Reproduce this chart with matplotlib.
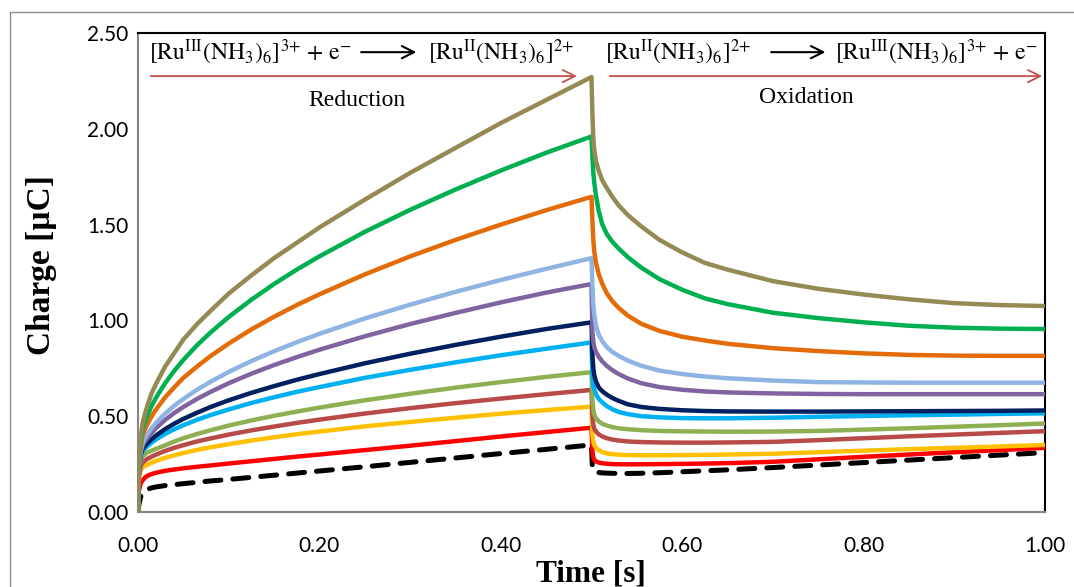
import matplotlib
matplotlib.use("Agg")
import matplotlib.pyplot as plt
from matplotlib.patches import Rectangle
from matplotlib.ticker import FormatStrFormatter

plt.rcParams["mathtext.fontset"] = "stix"

# time axis [s]: reduction step (0 - 0.5 s) then oxidation step (0.5 - 1 s)
T_RED = [0, 0.001, 0.003, 0.005, 0.0075, 0.01, 0.015, 0.02, 0.03, 0.04, 0.05, 0.065,
         0.08, 0.1, 0.125, 0.15, 0.175, 0.2, 0.25, 0.3, 0.35, 0.4, 0.45, 0.5]
T_OX = [0.501, 0.502, 0.503, 0.505, 0.508, 0.512, 0.517, 0.523, 0.53, 0.54, 0.555,
        0.575, 0.6, 0.625, 0.65, 0.7, 0.75, 0.8, 0.85, 0.9, 0.95, 1.0]
TIME = T_RED + T_OX

# charge [uC]; first 24 values = reduction, last 22 = oxidation
Q_OLIVE = [0, 0.27, 0.39, 0.46, 0.51, 0.55, 0.62, 0.67, 0.76, 0.83, 0.90, 0.98,
           1.05, 1.14, 1.235, 1.325, 1.405, 1.485, 1.63, 1.77, 1.90, 2.03, 2.15, 2.27,
           2.08, 1.95, 1.89, 1.83, 1.78, 1.73, 1.69, 1.645, 1.60, 1.55, 1.49,
           1.42, 1.355, 1.30, 1.265, 1.205, 1.165, 1.135, 1.11, 1.09, 1.08, 1.075]
Q_GREEN = [0, 0.26, 0.36, 0.43, 0.47, 0.50, 0.553, 0.598, 0.673, 0.737, 0.794, 0.87,
           0.937, 1.018, 1.108, 1.19, 1.265, 1.334, 1.462, 1.577, 1.683, 1.782, 1.875, 1.96,
           1.85, 1.77, 1.72, 1.65, 1.57, 1.50, 1.45, 1.41, 1.375, 1.33, 1.275,
           1.215, 1.16, 1.115, 1.085, 1.04, 1.012, 0.99, 0.972, 0.962, 0.957, 0.955]
Q_ORANGE = [0, 0.25, 0.34, 0.40, 0.43, 0.456, 0.499, 0.536, 0.599, 0.651, 0.70, 0.759,
            0.814, 0.879, 0.953, 1.019, 1.08, 1.136, 1.24, 1.334, 1.42, 1.50, 1.575, 1.645,
            1.52, 1.42, 1.36, 1.30, 1.24, 1.19, 1.14, 1.10, 1.065, 1.025, 0.982,
            0.945, 0.915, 0.895, 0.878, 0.855, 0.84, 0.828, 0.82, 0.816, 0.815, 0.815]
Q_LIGHTBLUE = [0, 0.24, 0.32, 0.36, 0.384, 0.404, 0.437, 0.466, 0.514, 0.555, 0.59, 0.638,
               0.68, 0.731, 0.788, 0.839, 0.886, 0.93, 1.01, 1.082, 1.149, 1.211, 1.269, 1.325,
               1.18, 1.08, 1.03, 0.97, 0.925, 0.89, 0.86, 0.835, 0.815, 0.79, 0.763,
               0.738, 0.72, 0.707, 0.698, 0.686, 0.678, 0.676, 0.675, 0.675, 0.675, 0.675]
Q_PURPLE = [0, 0.23, 0.31, 0.345, 0.367, 0.384, 0.413, 0.439, 0.481, 0.517, 0.548, 0.59,
            0.627, 0.672, 0.722, 0.767, 0.808, 0.847, 0.917, 0.981, 1.039, 1.094, 1.145, 1.19,
            0.94, 0.89, 0.86, 0.835, 0.81, 0.785, 0.762, 0.74, 0.72, 0.697, 0.672,
            0.652, 0.638, 0.629, 0.624, 0.619, 0.616, 0.615, 0.615, 0.615, 0.615, 0.615]
Q_NAVY = [0, 0.22, 0.30, 0.328, 0.344, 0.358, 0.38, 0.40, 0.433, 0.461, 0.486, 0.518,
          0.548, 0.583, 0.622, 0.657, 0.69, 0.72, 0.776, 0.826, 0.872, 0.915, 0.955, 0.99,
          0.82, 0.75, 0.715, 0.68, 0.65, 0.63, 0.612, 0.595, 0.58, 0.562, 0.548,
          0.538, 0.531, 0.527, 0.525, 0.524, 0.524, 0.525, 0.526, 0.527, 0.528, 0.53]
Q_CYAN = [0, 0.21, 0.29, 0.315, 0.33, 0.342, 0.362, 0.379, 0.408, 0.432, 0.453, 0.481,
          0.506, 0.535, 0.569, 0.599, 0.627, 0.652, 0.70, 0.742, 0.781, 0.818, 0.852, 0.885,
          0.71, 0.66, 0.64, 0.615, 0.59, 0.572, 0.552, 0.536, 0.522, 0.511, 0.50,
          0.494, 0.49, 0.489, 0.489, 0.492, 0.497, 0.501, 0.505, 0.508, 0.512, 0.515]
Q_LIME = [0, 0.20, 0.27, 0.29, 0.30, 0.31, 0.32, 0.33, 0.348, 0.368, 0.385, 0.407,
          0.427, 0.451, 0.478, 0.502, 0.524, 0.545, 0.583, 0.617, 0.649, 0.678, 0.705, 0.73,
          0.585, 0.535, 0.51, 0.49, 0.473, 0.46, 0.451, 0.443, 0.437, 0.432, 0.427,
          0.423, 0.421, 0.42, 0.419, 0.42, 0.423, 0.43, 0.437, 0.445, 0.453, 0.462]
Q_BRICK = [0, 0.19, 0.24, 0.258, 0.267, 0.276, 0.289, 0.30, 0.319, 0.335, 0.349, 0.368,
           0.384, 0.404, 0.426, 0.446, 0.465, 0.482, 0.514, 0.542, 0.568, 0.592, 0.615, 0.637,
           0.50, 0.455, 0.435, 0.42, 0.405, 0.394, 0.385, 0.378, 0.373, 0.368, 0.365,
           0.363, 0.362, 0.362, 0.363, 0.366, 0.375, 0.385, 0.395, 0.404, 0.413, 0.422]
Q_YELLOW = [0, 0.17, 0.22, 0.232, 0.24, 0.246, 0.257, 0.267, 0.283, 0.296, 0.308, 0.324,
            0.338, 0.354, 0.373, 0.39, 0.406, 0.42, 0.447, 0.47, 0.492, 0.513, 0.532, 0.55,
            0.40, 0.365, 0.35, 0.335, 0.322, 0.313, 0.306, 0.302, 0.299, 0.297, 0.296,
            0.296, 0.297, 0.298, 0.30, 0.304, 0.312, 0.32, 0.328, 0.335, 0.342, 0.35]
Q_RED = [0, 0.11, 0.15, 0.165, 0.178, 0.188, 0.198, 0.205, 0.215, 0.222, 0.228, 0.236,
         0.243, 0.253, 0.265, 0.277, 0.289, 0.30, 0.323, 0.346, 0.37, 0.394, 0.417, 0.44,
         0.31, 0.285, 0.272, 0.264, 0.258, 0.254, 0.252, 0.25, 0.249, 0.249, 0.249,
         0.25, 0.251, 0.253, 0.255, 0.262, 0.275, 0.288, 0.30, 0.312, 0.323, 0.335]
Q_BLANK = [0, 0.04, 0.08, 0.098, 0.11, 0.118, 0.126, 0.131, 0.138, 0.143, 0.148, 0.155,
           0.162, 0.17, 0.181, 0.192, 0.203, 0.214, 0.236, 0.259, 0.282, 0.305, 0.327, 0.35,
           0.23, 0.218, 0.213, 0.209, 0.206, 0.204, 0.203, 0.202, 0.201, 0.201, 0.202,
           0.205, 0.21, 0.215, 0.22, 0.232, 0.245, 0.258, 0.271, 0.284, 0.297, 0.31]

# drawn bottom to top
SERIES = [
    (Q_RED, "#FF0000"),
    (Q_YELLOW, "#FFC000"),
    (Q_BRICK, "#B84A48"),
    (Q_LIME, "#8FB052"),
    (Q_CYAN, "#00B0F0"),
    (Q_NAVY, "#002060"),
    (Q_PURPLE, "#8064A2"),
    (Q_LIGHTBLUE, "#8DB4E2"),
    (Q_ORANGE, "#E36C09"),
    (Q_GREEN, "#00B050"),
    (Q_OLIVE, "#948A54"),
]

W, H = 1074, 587
fig = plt.figure(figsize=(W / 100, H / 100), dpi=100)
ax = fig.add_axes([138 / W, 1 - 512 / H, (1045 - 138) / W, (512 - 33) / H])

ax.plot(TIME, Q_BLANK, color="black", lw=3.6, ls=(0, (3.2, 2.4)),
        dash_capstyle="round", zorder=2)
for values, color in SERIES:
    ax.plot(TIME, values, color=color, lw=3.2, solid_joinstyle="round", zorder=3)

ax.set_xlim(0, 1)
ax.set_ylim(0, 2.5)
ax.set_xticks([0, 0.2, 0.4, 0.6, 0.8, 1.0])
ax.set_yticks([0, 0.5, 1.0, 1.5, 2.0, 2.5])
ax.xaxis.set_major_formatter(FormatStrFormatter("%.2f"))
ax.yaxis.set_major_formatter(FormatStrFormatter("%.2f"))
ax.tick_params(axis="both", length=0, labelsize=15)
ax.tick_params(axis="x", pad=17)
ax.tick_params(axis="y", pad=7)
for lab in ax.get_xticklabels() + ax.get_yticklabels():
    lab.set_fontfamily("Lato")

for side in ["left", "bottom"]:
    ax.spines[side].set_color("#868686")
    ax.spines[side].set_linewidth(1.5)
for side in ["top", "right"]:
    ax.spines[side].set_color("black")
    ax.spines[side].set_linewidth(1.5)

serif = "Liberation Serif"
fig.text(42 / W, 1 - 265 / H, "Charge [µC]", rotation=90, ha="center", va="center",
         fontsize=24, fontweight="bold", family=serif)
fig.text(591 / W, 1 - 574 / H, "Time [s]", ha="center", va="center",
         fontsize=22.5, fontweight="bold", family=serif)

# reaction labels
eq_fs = 17
ru3 = r"$\mathrm{[Ru^{III}(NH_3)_6]^{3{+}}\ {+}\ e^{{-}}}$"
ru2 = r"$\mathrm{[Ru^{II}(NH_3)_6]^{2{+}}}$"
ax.text(0.012, 2.36, ru3, fontsize=eq_fs)
ax.annotate("", xy=(0.31, 2.40), xytext=(0.243, 2.40),
            arrowprops=dict(arrowstyle="->", color="black", lw=1.5, mutation_scale=22))
ax.text(0.32, 2.36, ru2, fontsize=eq_fs)

ax.text(0.515, 2.36, ru2, fontsize=eq_fs)
ax.annotate("", xy=(0.761, 2.40), xytext=(0.695, 2.40),
            arrowprops=dict(arrowstyle="->", color="black", lw=1.5, mutation_scale=22))
ax.text(0.768, 2.36, ru3, fontsize=eq_fs)

arrow_red = "#C0504D"
ax.annotate("", xy=(0.487, 2.275), xytext=(0.011, 2.275),
            arrowprops=dict(arrowstyle="->", color=arrow_red, lw=1.3, mutation_scale=22))
ax.annotate("", xy=(1.0, 2.275), xytext=(0.517, 2.275),
            arrowprops=dict(arrowstyle="->", color=arrow_red, lw=1.3, mutation_scale=22),
            annotation_clip=False)
ax.text(0.2415, 2.15, "Reduction", ha="center", va="center", fontsize=eq_fs, family=serif)
ax.text(0.7365, 2.165, "Oxidation", ha="center", va="center", fontsize=eq_fs, family=serif)

# outer chart border
fig.patches.append(Rectangle((10 / W, -0.1), 1.2, 1 - 12 / H + 0.1, transform=fig.transFigure,
                             fill=False, edgecolor="#8C8C8C", lw=1.0))

fig.savefig("out.png", dpi=100)
